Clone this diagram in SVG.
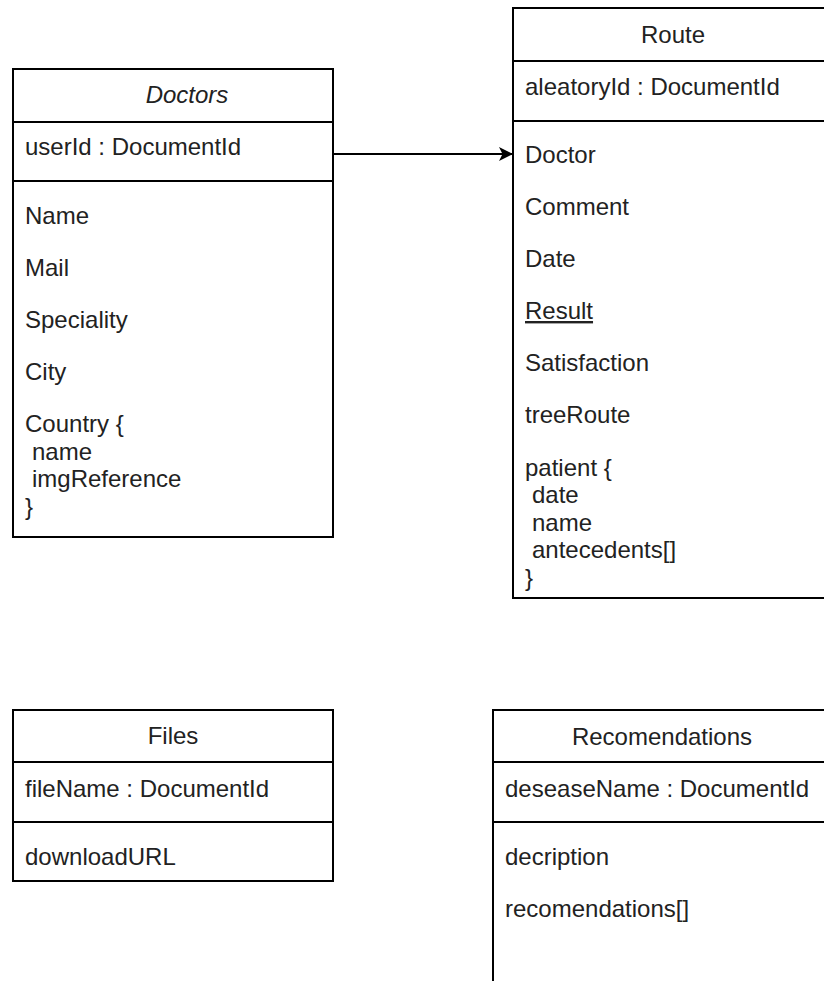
<svg xmlns="http://www.w3.org/2000/svg" width="824" height="981" viewBox="0 0 824 981">
<style>
.box{fill:#fff;stroke:#000;stroke-width:2}
.div{stroke:#000;stroke-width:2}
text{font-family:"Liberation Sans",Arial,sans-serif;font-size:24px;fill:#222}
.t{text-anchor:middle}
.it{font-style:italic}
.conn{stroke:#000;stroke-width:2;fill:none}
</style>
<defs>
<marker id="arr" markerWidth="16" markerHeight="16" refX="14" refY="7" orient="auto" markerUnits="userSpaceOnUse">
<path d="M0,0 L14,7 L0,14 L3.5,7 Z" fill="#000"/>
</marker>
</defs>
<rect width="824" height="981" fill="#fff"/>
<g id="doctors">
<rect class="box" x="13" y="69" width="320" height="468"/>
<line class="div" x1="13" y1="122" x2="333" y2="122"/>
<line class="div" x1="13" y1="181" x2="333" y2="181"/>
<text class="t it" x="187" y="103">Doctors</text>
<text x="25" y="155">userId : DocumentId</text>
<text x="25" y="224">Name</text>
<text x="25" y="276">Mail</text>
<text x="25" y="328">Speciality</text>
<text x="25" y="380">City</text>
<text x="25" y="432">Country {</text>
<text x="32" y="460">name</text>
<text x="32" y="487">imgReference</text>
<text x="25" y="515">}</text>
</g>
<g id="route">
<rect class="box" x="513" y="8" width="320" height="590"/>
<line class="div" x1="513" y1="61" x2="833" y2="61"/>
<line class="div" x1="513" y1="121" x2="833" y2="121"/>
<text class="t" x="673" y="43">Route</text>
<text x="525" y="95">aleatoryId : DocumentId</text>
<text x="525" y="163">Doctor</text>
<text x="525" y="215">Comment</text>
<text x="525" y="267">Date</text>
<text x="525" y="319" text-decoration="underline">Result</text>
<text x="525" y="371">Satisfaction</text>
<text x="525" y="423">treeRoute</text>
<text x="525" y="476">patient {</text>
<text x="532" y="503">date</text>
<text x="532" y="531">name</text>
<text x="532" y="558">antecedents[]</text>
<text x="525" y="586">}</text>
</g>
<g id="files">
<rect class="box" x="13" y="710" width="320" height="171"/>
<line class="div" x1="13" y1="762" x2="333" y2="762"/>
<line class="div" x1="13" y1="822" x2="333" y2="822"/>
<text class="t" x="173" y="744">Files</text>
<text x="25" y="797">fileName : DocumentId</text>
<text x="25" y="865">downloadURL</text>
</g>
<g id="recomendations">
<rect class="box" x="493" y="710" width="338" height="300"/>
<line class="div" x1="493" y1="762" x2="831" y2="762"/>
<line class="div" x1="493" y1="822" x2="831" y2="822"/>
<text class="t" x="662" y="745">Recomendations</text>
<text x="505" y="797">deseaseName : DocumentId</text>
<text x="505" y="865">decription</text>
<text x="505" y="917">recomendations[]</text>
</g>
<g id="connectors">
<path class="conn" d="M333,154 L513,154" marker-end="url(#arr)"/>
</g>
</svg>
